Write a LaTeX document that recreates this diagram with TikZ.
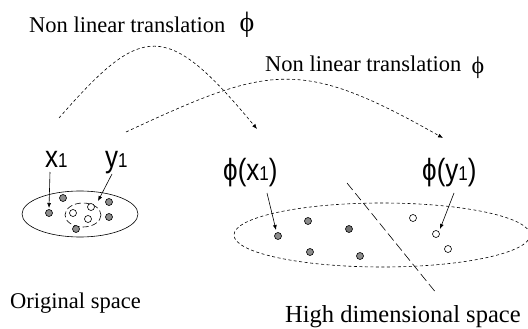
\documentclass[tikz,border=0pt]{standalone}
\usepackage{fontspec}
\setmainfont{Liberation Serif}
\newfontfamily\hv{Liberation Sans}
\usetikzlibrary{arrows.meta}
\begin{document}
\begin{tikzpicture}[x=1pt,y=-1pt,
  lbl/.style={inner sep=0pt,font=\fontsize{22.5}{24}\selectfont},
  sl/.style={inner sep=0pt},
  tip/.style={-{Latex[length=5pt,width=4pt]}},
  curvearr/.style={tip,dash pattern=on 3pt off 2.5pt,line width=0.6pt},
  ptr/.style={tip,line width=0.6pt},
  hatched/.style={circle,draw,line width=0.6pt,minimum size=7pt,inner sep=0pt,fill=black!45},
  grayd/.style={circle,draw,line width=0.6pt,minimum size=7pt,inner sep=0pt,fill=black!55},
  opend/.style={circle,draw,line width=0.6pt,minimum size=7pt,inner sep=0pt,fill=white}]
\useasboundingbox (0,0) rectangle (528,329);
\newcommand\sublbl[1]{\scalebox{1}[1.18]{\hv\fontsize{26}{26}\selectfont #1}}
\newcommand\one{{\fontsize{17}{17}\selectfont 1}}
% top texts
\node[lbl,anchor=base west] (t1) at (29,33) {Non linear translation};
\node[sl,font=\fontsize{28}{28}\selectfont] (p1) at (247,25) {ϕ};
\node[lbl,anchor=base west] (t2) at (265,72) {Non linear translation};
\node[sl,font=\fontsize{24}{24}\selectfont] (p2) at (478,68) {ϕ};
\node[lbl,anchor=base west] (os) at (10,308) {Original space};
\node[lbl,anchor=base west,font=\fontsize{24.5}{26}\selectfont] (hd) at (285,322) {High dimensional space};
% labels
\node[sl,anchor=base west] (lx) at (45,167) {\sublbl{x\one}};
\node[sl,anchor=base west] (ly) at (105,167) {\sublbl{y\one}};
\node[sl,anchor=base west] (lpx) at (223,180) {\sublbl{ϕ(x\one)}};
\node[sl,anchor=base west] (lpy) at (422,180) {\sublbl{ϕ(y\one)}};
% original space
\draw[line width=0.6pt] (80,214) ellipse [x radius=58,y radius=23];
\draw[line width=0.6pt,dash pattern=on 6pt off 3pt] (83,215) ellipse [x radius=18,y radius=12];
\node[hatched] (a1) at (49,213) {};
\node[hatched] (a2) at (63,198) {};
\node[hatched] (a3) at (109,202) {};
\node[hatched] (a4) at (109,217) {};
\node[hatched] (a5) at (76,229) {};
\node[opend] (b1) at (73,213) {};
\node[opend] (b2) at (91,207) {};
\node[opend] (b3) at (88,219) {};
% high dimensional space
\draw[line width=0.6pt,dash pattern=on 3pt off 2.5pt] (382,235) ellipse [x radius=148,y radius=32];
\node[hatched] (c1) at (278,236) {};
\node[hatched] (c2) at (308,221) {};
\node[grayd] (c3) at (349,229) {};
\node[hatched] (c4) at (310,252) {};
\node[hatched] (c5) at (360,256) {};
\node[opend] (d1) at (413,218) {};
\node[opend] (d2) at (436,234) {};
\node[opend] (d3) at (448,249) {};
% separator
\coordinate (s1) at (347,183);
\coordinate (s2) at (437,294);
\draw[line width=0.6pt,dash pattern=on 9pt off 4pt] (s1) -- (s2);
% pointers
\coordinate (px0) at (50,172); \coordinate (px1) at (49,208);
\draw[ptr] (px0) -- (px1);
\coordinate (py0) at (112,174); \coordinate (py1) at (98,201);
\draw[ptr] (py0) -- (py1);
\coordinate (pc0) at (267,193); \coordinate (pc1) at (276,230);
\draw[ptr] (pc0) -- (pc1);
\coordinate (pd0) at (454,193); \coordinate (pd1) at (440,229);
\draw[ptr] (pd0) -- (pd1);
% curved translation arrows
\coordinate (u0) at (59,118); \coordinate (u1) at (257,129);
\draw[curvearr] (u0) .. controls (142,23) and (166,19) .. (u1);
\coordinate (v0) at (126,132); \coordinate (v1) at (443,138);
\draw[curvearr] (v0) .. controls (270,65) and (300,57) .. (v1);
\end{tikzpicture}
\end{document}
